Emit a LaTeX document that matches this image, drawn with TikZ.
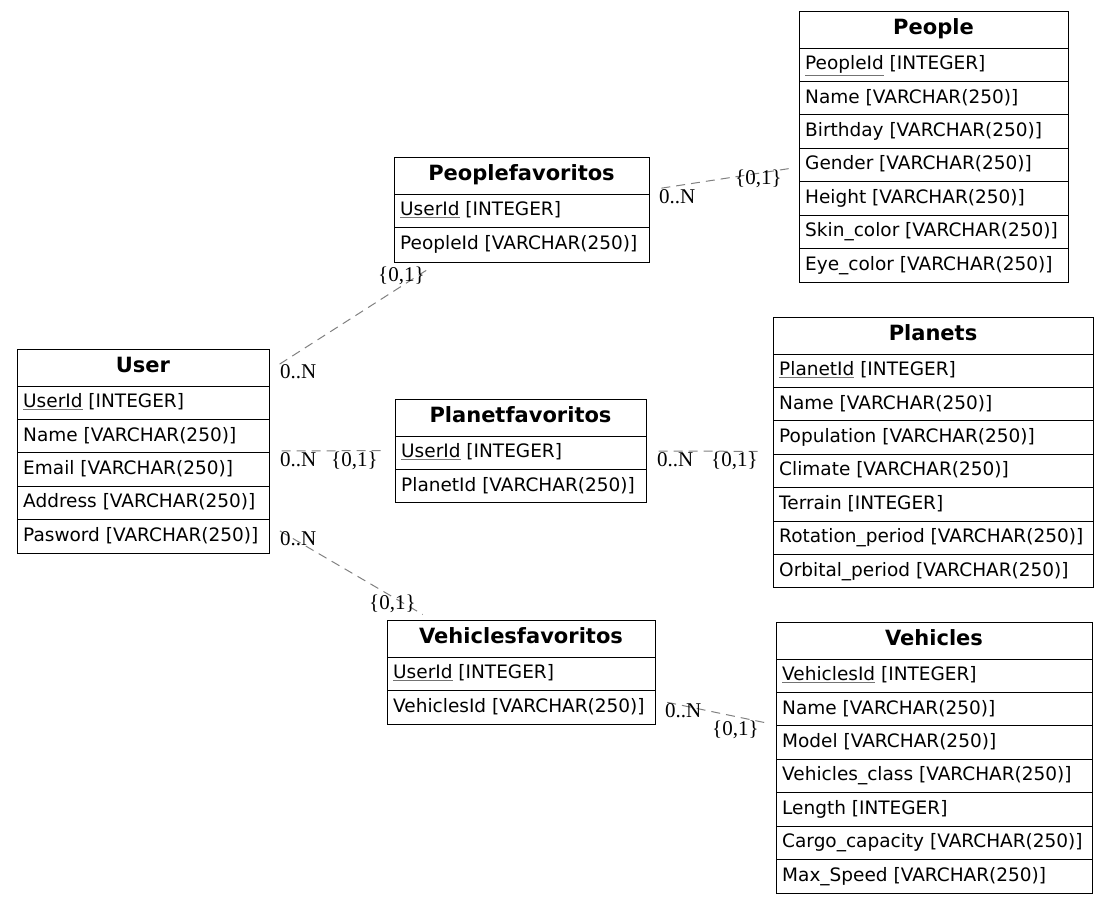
\documentclass[tikz,border=0pt]{standalone}
\usepackage{fontspec}
\setmainfont{DejaVu Sans}
\newfontfamily\labfont{Liberation Serif}
\usetikzlibrary{fit}
\tikzset{
  tabbox/.style={draw=black, line width=1pt, inner sep=0pt, rectangle},
  tabtitle/.style={font=\fontsize{21}{25}\selectfont\bfseries, inner sep=0pt},
  tabrow/.style={font=\fontsize{18.5}{22}\selectfont, inner sep=0pt},
  tabline/.style={draw=black, line width=1pt},
  relation/.style={draw=black!50, line width=1pt, dash pattern=on 9pt off 6pt, shorten <=12pt, shorten >=10pt},
  card/.style={font=\labfont\fontsize{21}{24}\selectfont, inner sep=0pt, anchor=base west},
}
\newcommand\pkey[1]{\textcolor{black!55}{\underline{\textcolor{black}{#1}}}}
\newcommand\ertable[7]{%
  \node[tabbox, fit={(#2,#3) (#4,#5)}] (#1) {};
  \node[tabtitle, anchor=base] (#1-title) at ({(#2+#4)/2}, #3+23.5) {#6};
  \foreach \rowtext [count=\i] in {#7} {
    \draw[tabline] (#2, {#3+37+(\i-1)*33.4}) -- (#4, {#3+37+(\i-1)*33.4});
    \node[tabrow, anchor=base west] (#1-r\i) at (#2+6, {#3+37+(\i-1)*33.4+21.7}) {\rowtext};
  }
}
\begin{document}
\begin{tikzpicture}[x=1pt, y=-1pt]
\useasboundingbox (0,0) rectangle (1109,903);

\ertable{People}{799}{11}{1068}{282}{People}{\pkey{PeopleId} [INTEGER],Name [VARCHAR(250)],Birthday [VARCHAR(250)],Gender [VARCHAR(250)],Height [VARCHAR(250)],Skin\_color [VARCHAR(250)],Eye\_color [VARCHAR(250)]}

\ertable{Peoplefavoritos}{394}{157}{649}{262}{Peoplefavoritos}{\pkey{UserId} [INTEGER],PeopleId [VARCHAR(250)]}

\ertable{User}{17}{349}{269}{553}{User}{\pkey{UserId} [INTEGER],Name [VARCHAR(250)],Email [VARCHAR(250)],Address [VARCHAR(250)],Pasword [VARCHAR(250)]}

\ertable{Planetfavoritos}{395}{399}{646}{502}{Planetfavoritos}{\pkey{UserId} [INTEGER],PlanetId [VARCHAR(250)]}

\ertable{Planets}{773}{317}{1093}{587}{Planets}{\pkey{PlanetId} [INTEGER],Name [VARCHAR(250)],Population [VARCHAR(250)],Climate [VARCHAR(250)],Terrain [INTEGER],Rotation\_period [VARCHAR(250)],Orbital\_period [VARCHAR(250)]}

\ertable{Vehiclesfavoritos}{387}{620}{655}{724}{Vehiclesfavoritos}{\pkey{UserId} [INTEGER],VehiclesId [VARCHAR(250)]}

\ertable{Vehicles}{776}{622}{1092}{893}{Vehicles}{\pkey{VehiclesId} [INTEGER],Name [VARCHAR(250)],Model [VARCHAR(250)],Vehicles\_class [VARCHAR(250)],Length [INTEGER],Cargo\_capacity [VARCHAR(250)],Max\_Speed [VARCHAR(250)]}

% relations
\draw[relation] (User) -- (Peoplefavoritos);
\draw[relation] (User) -- (Planetfavoritos);
\draw[relation] (User) -- (Vehiclesfavoritos);
\draw[relation] (Peoplefavoritos) -- (People);
\draw[relation] (Planetfavoritos) -- (Planets);
\draw[relation] (Vehiclesfavoritos) -- (Vehicles);

% cardinalities
\node[card] (c1t) at (280,378) {0..N};
\node[card] (c1h) at (378,281) {\{0,1\}};
\node[card] (c2t) at (280,466) {0..N};
\node[card] (c2h) at (331,466) {\{0,1\}};
\node[card] (c3t) at (280,545) {0..N};
\node[card] (c3h) at (369,609) {\{0,1\}};
\node[card] (c4t) at (659,203) {0..N};
\node[card] (c4h) at (735,184) {\{0,1\}};
\node[card] (c5t) at (657,466) {0..N};
\node[card] (c5h) at (711,466) {\{0,1\}};
\node[card] (c6t) at (665,717) {0..N};
\node[card] (c6h) at (712,735) {\{0,1\}};
\end{tikzpicture}
\end{document}
